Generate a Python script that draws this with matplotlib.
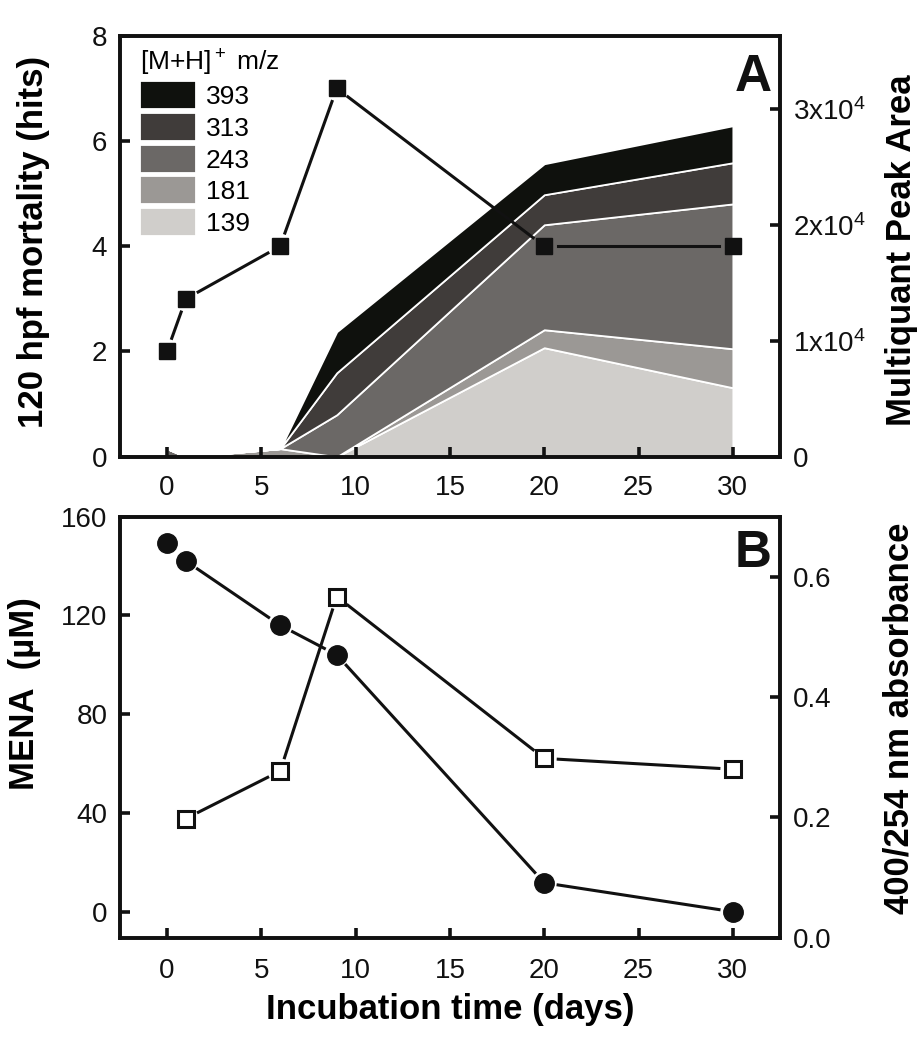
import numpy as np
import matplotlib
matplotlib.use('Agg')
import matplotlib.pyplot as plt
from matplotlib.ticker import FixedLocator

plt.rcParams['font.family'] = ['Liberation Sans', 'DejaVu Sans']
plt.rcParams['mathtext.fontset'] = 'custom'
plt.rcParams['mathtext.rm'] = 'Liberation Sans'
plt.rcParams['mathtext.it'] = 'Liberation Sans'
plt.rcParams['mathtext.default'] = 'rm'

# ---- data ----
days = [0, 1, 6, 9, 20, 30]

# panel A: mortality (left axis)
mortality = [2, 3, 4, 7, 4, 4]

# panel A: Multiquant peak areas, stacked (right axis)
mz_labels = ['139', '181', '243', '313', '393']
area_139 = [0, 0, 0, 0, 9400, 5950]
area_181 = [0, 0, 700, 0, 1550, 3360]
area_243 = [700, 0, 0, 3620, 9050, 12490]
area_313 = [0, 0, 0, 3620, 2590, 3550]
area_393 = [0, 0, 0, 3540, 2670, 3190]
area_colors = ['#d0cecb', '#9b9895', '#6b6866', '#403c3a', '#0f110d']

# panel B
mena = [149.5, 142, 116, 104, 11.7, 0]
abs_days = [1, 6, 9, 20, 30]
absorbance = [0.198, 0.277, 0.567, 0.298, 0.28]

xticks = [0, 5, 10, 15, 20, 25, 30]
ink = '#111111'
label_size = 25


def gap_line(ax, x, y, gap=14, **kw):
	# Origin-style line: segments stop short of each marker
	pts = ax.transData.transform(np.column_stack([x, y]))
	inv = ax.transData.inverted()
	for p0, p1 in zip(pts[:-1], pts[1:]):
		d = p1 - p0
		L = np.hypot(d[0], d[1])
		if L <= 2 * gap:
			continue
		u = d / L
		a = inv.transform(p0 + u * gap)
		b = inv.transform(p1 - u * gap)
		ax.plot([a[0], b[0]], [a[1], b[1]], **kw)


def style(ax):
	for s in ax.spines.values():
		s.set_linewidth(2.6)
		s.set_color(ink)
	ax.tick_params(direction='in', length=7, width=2.6, labelsize=20,
		colors=ink, pad=9, top=False)


fig = plt.figure(figsize=(9.22, 10.5), dpi=100)

# ---------------- panel A ----------------
axA = fig.add_axes([0.130, 0.565, 0.716, 0.401])
axA2 = axA.twinx()
axA.set_zorder(axA2.get_zorder() + 1)
axA.patch.set_visible(False)

axA.set_xlim(-2.5, 32.5)
axA.set_ylim(0, 8)
axA2.set_ylim(0, 36300)

polys = axA2.stackplot(days, area_139, area_181, area_243, area_313, area_393,
	colors=area_colors, edgecolor='white', linewidth=1.3)

gap_line(axA, days, mortality, color=ink, lw=2.2)
axA.plot(days, mortality, 's', color=ink, ms=12, zorder=5)

axA.set_xticks(xticks)
axA.set_yticks([0, 2, 4, 6, 8])
axA2.yaxis.set_major_locator(FixedLocator([0, 10000, 20000, 30000]))
axA2.set_yticklabels(['0', '1x10$^4$', '2x10$^4$', '3x10$^4$'])
style(axA)
style(axA2)
axA.tick_params(axis='y', right=False)
axA.tick_params(axis='x', pad=13)

axA.set_ylabel('120 hpf mortality (hits)', fontsize=label_size, fontweight='bold')
axA.yaxis.set_label_coords(-0.106, 0.51)
axA2.set_ylabel('Multiquant Peak Area', fontsize=label_size, fontweight='bold')
axA2.yaxis.set_label_coords(1.159, 0.49)

axA.text(0.988, 0.96, 'A', transform=axA.transAxes, ha='right', va='top',
	fontsize=37, fontweight='bold', color=ink)

leg = axA.legend(polys[::-1], mz_labels[::-1], title='[M+H]$^+$ m/z',
	loc='upper left', bbox_to_anchor=(0.03, 0.972), frameon=False,
	fontsize=19, title_fontsize=19, handlelength=2.15, handleheight=1.25,
	labelspacing=0.14, handletextpad=0.35, borderpad=0, borderaxespad=0,
	alignment='left')

# ---------------- panel B ----------------
axB = fig.add_axes([0.130, 0.107, 0.716, 0.401])
axB2 = axB.twinx()
axB.set_xlim(-2.5, 32.5)
axB.set_ylim(-10.5, 160)
axB2.set_ylim(0, 0.7)

gap_line(axB, days, mena, color=ink, lw=2.2)
axB.plot(days, mena, 'o', color=ink, ms=14, zorder=5)

gap_line(axB2, abs_days, absorbance, color=ink, lw=2.2)
axB2.plot(abs_days, absorbance, 's', mfc='white', mec=ink, mew=2.2, ms=12, zorder=5)

axB.set_xticks(xticks)
axB.set_yticks([0, 40, 80, 120, 160])
axB2.set_yticks([0.0, 0.2, 0.4, 0.6])
axB2.set_yticklabels(['0.0', '0.2', '0.4', '0.6'])
style(axB)
style(axB2)
axB.tick_params(axis='y', right=False)
axB.tick_params(axis='x', pad=15)

axB.set_ylabel('MENA  (\u00b5M)', fontsize=label_size, fontweight='bold')
axB.yaxis.set_label_coords(-0.119, 0.58)
axB2.set_ylabel('400/254 nm absorbance', fontsize=label_size, fontweight='bold')
axB2.yaxis.set_label_coords(1.156, 0.52)
axB.set_xlabel('Incubation time (days)', fontsize=label_size, fontweight='bold', labelpad=6)

axB.text(0.988, 0.97, 'B', transform=axB.transAxes, ha='right', va='top',
	fontsize=37, fontweight='bold', color=ink)

fig.savefig('out.png', dpi=100, facecolor='white')
